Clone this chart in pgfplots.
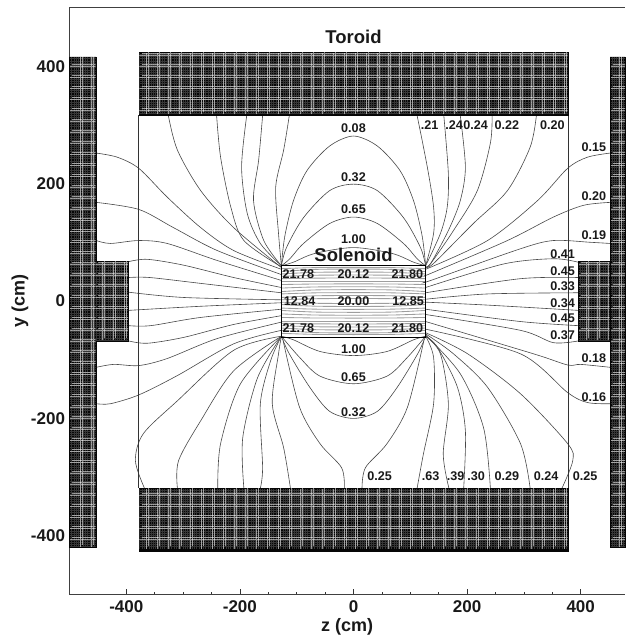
\documentclass[border=0pt]{standalone}
\usepackage{fontspec}
\setmainfont{Liberation Sans}[BoldFont={Liberation Sans Bold}]
\usepackage{pgfplots}
\pgfplotsset{compat=1.18}
\definecolor{fl}{HTML}{484848}
\definecolor{blk}{HTML}{060606}
\tikzset{lab/.style={font=\fontsize{12.6}{14}\selectfont\bfseries,inner sep=0pt,text=black!90},
 big/.style={font=\fontsize{18.5}{20}\selectfont\bfseries,inner sep=0pt,text=black!90}}
\pgfplotsset{fl/.style={color=fl,line width=0.6pt,smooth,no markers},
 sl/.style={color=black!38,line width=0.85pt,smooth,no markers},
 block/.style={fill=blk,draw=blk,line width=0.4pt,no markers}}
\newcommand{\mesh}[4]{%
 \begin{scope}
 \clip (axis cs:#1,#2) rectangle (axis cs:#3,#4);
 \draw[white,opacity=0.2,line width=0.75pt,step=2.27pt] (axis cs:#1,#2) grid (axis cs:#3,#4);
 \draw[white,opacity=0.55,line width=0.6pt,step=11pt] (axis cs:#1,#2) grid (axis cs:#3,#4);
 \draw[white,opacity=0.55,line width=0.6pt,step=11pt,shift={(2.27pt,2.27pt)}] (axis cs:#1,#2) grid (axis cs:#3,#4);
 \end{scope}}
\begin{document}
\begin{tikzpicture}
\path[use as bounding box] (0,0) rectangle (625pt,637pt);
\begin{axis}[
 at={(69.5pt,42.5pt)},anchor=south west,scale only axis,width=555.5pt,height=587pt,
 xmin=-500,xmax=478,ymin=-500,ymax=500,clip=false,
 axis lines*=left,axis line style={color=black!75,line width=0.8pt},
 xtick={-400,-200,0,200,400},ytick={-400,-200,0,200,400},
 minor x tick num=3,minor y tick num=3,
 tick align=inside,major tick length=5pt,minor tick length=3pt,
 tick style={color=black!80,line width=0.6pt},
 tick label style={font=\fontsize{17}{19}\selectfont\bfseries,text=black!90},
 /pgf/number format/assume math mode=true,
 xticklabel style={yshift=-3pt},yticklabel style={xshift=-1pt},
 xlabel={z (cm)},ylabel={y (cm)},
 label style={font=\fontsize{18}{20}\selectfont\bfseries,text=black!90},
 xlabel style={at={(axis description cs:0.5,-0.0)},anchor=center,yshift=-32.5pt},
 ylabel style={at={(axis description cs:0,0.5)},anchor=center,rotate=0,yshift=49.5pt},
]
% field lines, upper arcs
\addplot[fl] coordinates {(-127,60)(-121,110)(-106,170)(-82,222)(-42,264)(0,281)(42,264)(82,222)(106,170)(121,110)(127,60)};
\addplot[fl] coordinates {(-127,60)(-118,91)(-88,142)(-42,188)(0,199)(42,188)(88,142)(118,91)(127,60)};
\addplot[fl] coordinates {(-127,60)(-112,72)(-88,98)(-42,132)(0,143)(42,132)(88,98)(112,72)(127,60)};
\addplot[fl] coordinates {(-127,60)(-106,66)(-68,81)(0,91)(68,81)(106,66)(127,60)};
% upper right wall lines
\addplot[fl] coordinates {(112,316)(130,228)(141,160)(141,115)(127,60)};
\addplot[fl] coordinates {(159,316)(167,217)(165,160)(153,115)(127,60)};
\addplot[fl] coordinates {(188,316)(197,228)(188,171)(167,120)(136,64)(127,58)};
\addplot[fl] coordinates {(244,316)(241,269)(218,188)(176,120)(136,64)(127,58)};
\addplot[fl] coordinates {(322,316)(311,262)(271,188)(211,132)(141,64)(127,57)};
% upper left wall lines
\addplot[fl] coordinates {(-326,316)(-310,257)(-269,188)(-211,125)(-127,57)};
\addplot[fl] coordinates {(-241,316)(-234,245)(-216,160)(-193,103)(-127,58)};
\addplot[fl] coordinates {(-188,316)(-197,228)(-187,149)(-164,98)(-127,60)};
\addplot[fl] coordinates {(-160,316)(-167,240)(-176,171)(-158,103)(-127,60)};
\addplot[fl] coordinates {(-113,316)(-123,257)(-137,194)(-132,115)(-127,60)};
% left side
\addplot[fl] coordinates {(-453,252)(-416,245)(-378,226)(-328,177)(-269,125)(-211,86)(-127,54)};
\addplot[fl] coordinates {(-453,168)(-378,156)(-317,125)(-240,86)(-127,45)};
\addplot[fl] coordinates {(-453,103)(-428,98)(-378,103)(-328,98)(-240,69)(-127,35)};
\addplot[fl] coordinates {(-396,67)(-363,71)(-299,61)(-211,40)(-127,23)};
\addplot[fl] coordinates {(-396,40)(-359,40)(-269,30)(-127,14)};
\addplot[fl] coordinates {(-396,15)(-299,6)(-127,2)};
\addplot[fl] coordinates {(-396,-16)(-269,-9)(-127,-3)};
\addplot[fl] coordinates {(-396,-42)(-357,-42)(-269,-28)(-127,-14)};
\addplot[fl] coordinates {(-396,-68)(-363,-72)(-299,-62)(-211,-40)(-127,-25)};
\addplot[fl] coordinates {(-453,-113)(-422,-108)(-378,-110)(-328,-98)(-240,-64)(-127,-36)};
\addplot[fl] coordinates {(-453,-175)(-428,-175)(-378,-160)(-310,-127)(-211,-73)(-127,-50)};
% right side
\addplot[fl] coordinates {(452,252)(412,245)(377,226)(324,171)(236,103)(127,54)};
\addplot[fl] coordinates {(452,168)(405,163)(352,143)(271,103)(136,47)(127,44)};
\addplot[fl] coordinates {(452,98)(417,100)(352,103)(294,89)(136,35)(127,33)};
\addplot[fl] coordinates {(396,66)(352,72)(264,63)(127,23)};
\addplot[fl] coordinates {(396,40)(294,38)(127,14)};
\addplot[fl] coordinates {(396,14)(236,12)(127,3)};
\addplot[fl] coordinates {(396,-16)(236,-7)(127,-2)};
\addplot[fl] coordinates {(396,-42)(294,-35)(127,-14)};
\addplot[fl] coordinates {(396,-68)(352,-71)(294,-50)(127,-23)};
\addplot[fl] coordinates {(452,-113)(400,-108)(377,-109)(317,-90)(127,-35)};
\addplot[fl] coordinates {(452,-175)(412,-173)(377,-156)(294,-90)(127,-48)};
% lower arcs
\addplot[fl] coordinates {(-127,-60)(-106,-66)(-59,-86)(0,-93)(59,-86)(106,-66)(127,-60)};
\addplot[fl] coordinates {(-127,-60)(-95,-96)(-59,-128)(0,-141)(59,-128)(95,-96)(127,-60)};
\addplot[fl] coordinates {(-127,-60)(-113,-90)(-77,-147)(-42,-188)(0,-200)(42,-188)(77,-147)(113,-90)(127,-60)};
\addplot[fl] coordinates {(15,-319)(21,-284)(59,-243)(95,-181)(124,-67)};
\addplot[fl] coordinates {(-16,-319)(-21,-284)(-59,-243)(-95,-181)(-124,-67)};
% lower left wall lines
\addplot[fl] coordinates {(-368,-319)(-384,-272)(-370,-226)(-310,-170)(-211,-84)(-127,-60)};
\addplot[fl] coordinates {(-310,-319)(-308,-272)(-269,-204)(-211,-119)(-127,-60)};
\addplot[fl] coordinates {(-239,-319)(-234,-243)(-199,-141)(-127,-60)};
\addplot[fl] coordinates {(-193,-319)(-195,-233)(-169,-131)(-127,-60)};
\addplot[fl] coordinates {(-164,-319)(-160,-284)(-164,-175)(-146,-102)(-127,-60)};
\addplot[fl] coordinates {(-111,-319)(-123,-250)(-143,-175)(-132,-90)(-127,-60)};
% lower right wall lines
\addplot[fl] coordinates {(112,-319)(123,-261)(141,-175)(141,-96)(127,-60)};
\addplot[fl] coordinates {(168,-319)(158,-261)(167,-175)(153,-90)(127,-60)};
\addplot[fl] coordinates {(194,-319)(197,-221)(183,-147)(148,-79)(127,-60)};
\addplot[fl] coordinates {(241,-319)(229,-216)(188,-124)(127,-58)};
\addplot[fl] coordinates {(311,-319)(294,-243)(236,-147)(176,-90)(127,-56)};
\addplot[fl] coordinates {(367,-319)(386,-272)(377,-243)(294,-158)(201,-90)(127,-54)};
% solenoid interior
\addplot[sl] coordinates {(-127,55)(-60,57)(60,57)(127,55)};
\addplot[sl] coordinates {(-127,50)(-60,54)(60,54)(127,50)};
\addplot[sl] coordinates {(-127,46)(-60,49)(60,49)(127,46)};
\addplot[sl] coordinates {(-127,42)(-60,44)(60,44)(127,42)};
\addplot[sl] coordinates {(-127,38)(-60,39)(60,39)(127,38)};
\addplot[sl] coordinates {(-127,34)(-60,34)(60,34)(127,34)};
\addplot[sl] coordinates {(-127,28)(-60,29)(60,29)(127,28)};
\addplot[sl] coordinates {(-127,22)(-60,24)(60,24)(127,22)};
\addplot[sl] coordinates {(-127,16)(-60,19)(60,19)(127,16)};
\addplot[sl] coordinates {(-127,12)(-60,14)(60,14)(127,12)};
\addplot[sl] coordinates {(-127,6)(-60,9)(60,9)(127,6)};
\addplot[sl] coordinates {(-127,2)(-60,4)(60,4)(127,2)};
\addplot[sl] coordinates {(-127,-2)(-60,-4)(60,-4)(127,-2)};
\addplot[sl] coordinates {(-127,-6)(-60,-9)(60,-9)(127,-6)};
\addplot[sl] coordinates {(-127,-12)(-60,-14)(60,-14)(127,-12)};
\addplot[sl] coordinates {(-127,-16)(-60,-19)(60,-19)(127,-16)};
\addplot[sl] coordinates {(-127,-22)(-60,-24)(60,-24)(127,-22)};
\addplot[sl] coordinates {(-127,-28)(-60,-29)(60,-29)(127,-28)};
\addplot[sl] coordinates {(-127,-34)(-60,-34)(60,-34)(127,-34)};
\addplot[sl] coordinates {(-127,-38)(-60,-39)(60,-39)(127,-38)};
\addplot[sl] coordinates {(-127,-42)(-60,-44)(60,-44)(127,-42)};
\addplot[sl] coordinates {(-127,-46)(-60,-49)(60,-49)(127,-46)};
\addplot[sl] coordinates {(-127,-50)(-60,-54)(60,-54)(127,-50)};
\addplot[sl] coordinates {(-127,-55)(-60,-57)(60,-57)(127,-55)};
% frames
\addplot[color=black!80,line width=0.7pt,no markers] coordinates {(-378,316)(-378,-319)};
\addplot[color=black!80,line width=0.7pt,no markers] coordinates {(378,316)(378,-319)};
\addplot[color=black,line width=1.4pt,no markers] coordinates {(-127,60)(127,60)(127,-62)(-127,-62)(-127,60)};
% toroid blocks
\addplot[block] coordinates {(-378,423)(378,423)(378,316)(-378,316)} --cycle;
\addplot[block] coordinates {(-378,-319)(378,-319)(378,-426)(-378,-426)} --cycle;
\addplot[block] coordinates {(-500,416)(-453,416)(-453,68)(-396,68)(-396,-68)(-453,-68)(-453,-419)(-500,-419)} --cycle;
\addplot[block] coordinates {(478,416)(452,416)(452,68)(396,68)(396,-68)(452,-68)(452,-419)(478,-419)} --cycle;
\mesh{-377}{423}{377}{318}
\mesh{-377}{-320}{377}{-422}
\mesh{-499}{416}{-454}{-419}
\mesh{-454}{67}{-397}{-67}
\mesh{397}{67}{451}{-67}
\mesh{453}{416}{478}{-419}
% labels
\node[big] at (axis cs:0,450) {Toroid};
\node[big] at (axis cs:0,79) {Solenoid};
\node[lab] at (axis cs:0,295) {0.08};
\node[lab] at (axis cs:0,211) {0.32};
\node[lab] at (axis cs:0,156) {0.65};
\node[lab] at (axis cs:0,106) {1.00};
\node[lab] at (axis cs:134,300) {.21};
\node[lab] at (axis cs:177,300) {.24};
\node[lab] at (axis cs:215,300) {0.24};
\node[lab] at (axis cs:270,300) {0.22};
\node[lab] at (axis cs:350,300) {0.20};
\node[lab] at (axis cs:423,262) {0.15};
\node[lab] at (axis cs:423,178) {0.20};
\node[lab] at (axis cs:423,112) {0.19};
\node[lab] at (axis cs:368,79) {0.41};
\node[lab] at (axis cs:368,51) {0.45};
\node[lab] at (axis cs:368,25) {0.33};
\node[lab] at (axis cs:368,-4) {0.34};
\node[lab] at (axis cs:368,-30) {0.45};
\node[lab] at (axis cs:368,-59) {0.37};
\node[lab] at (axis cs:423,-98) {0.18};
\node[lab] at (axis cs:423,-163) {0.16};
\node[lab] at (axis cs:-97,45) {21.78};
\node[lab] at (axis cs:0,45) {20.12};
\node[lab] at (axis cs:95,45) {21.80};
\node[lab] at (axis cs:-95,0) {12.84};
\node[lab] at (axis cs:0,0) {20.00};
\node[lab] at (axis cs:96,0) {12.85};
\node[lab] at (axis cs:-97,-46) {21.78};
\node[lab] at (axis cs:0,-46) {20.12};
\node[lab] at (axis cs:95,-46) {21.80};
\node[lab] at (axis cs:0,-82) {1.00};
\node[lab] at (axis cs:0,-130) {0.65};
\node[lab] at (axis cs:0,-190) {0.32};
\node[lab] at (axis cs:46,-299) {0.25};
\node[lab] at (axis cs:136,-299) {.63};
\node[lab] at (axis cs:180,-299) {.39};
\node[lab] at (axis cs:216,-299) {.30};
\node[lab] at (axis cs:270,-299) {0.29};
\node[lab] at (axis cs:339,-299) {0.24};
\node[lab] at (axis cs:408,-299) {0.25};
\draw[color=black!75,line width=0.8pt] (rel axis cs:0,1)--(rel axis cs:1,1);
\end{axis}
\end{tikzpicture}
\end{document}
